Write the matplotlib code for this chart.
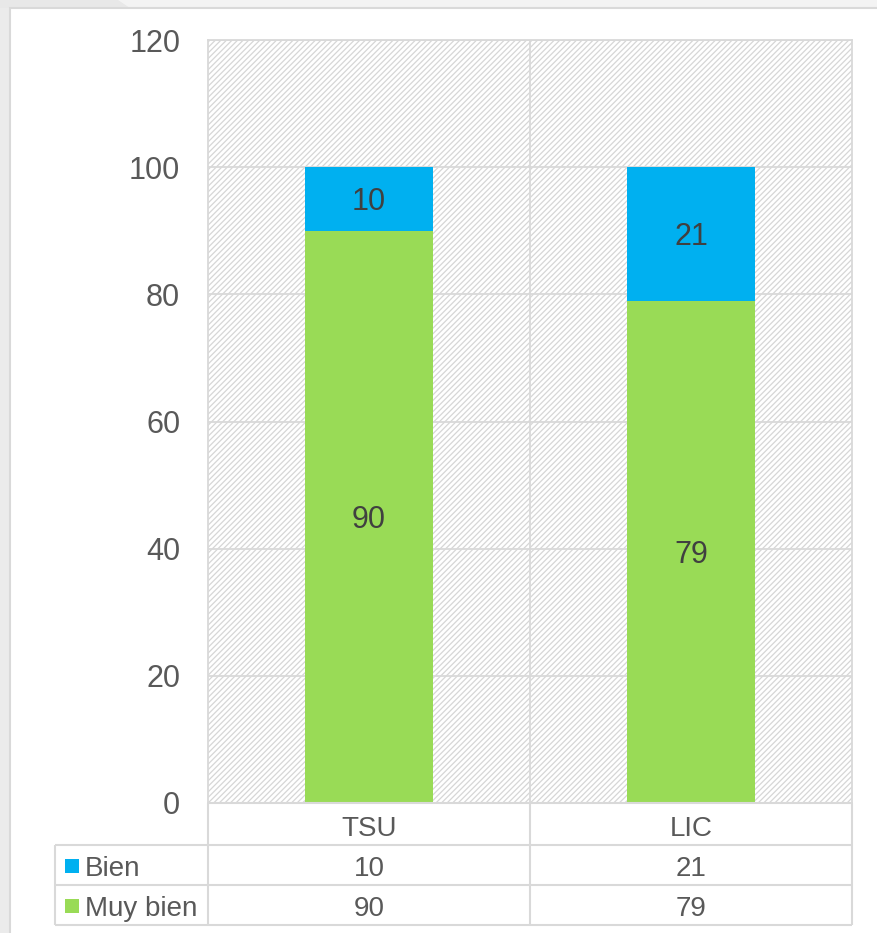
import numpy as np
import matplotlib.pyplot as plt
from matplotlib.patches import Rectangle, Polygon

plt.rcParams['font.family'] = ['Liberation Sans', 'DejaVu Sans']
plt.rcParams['hatch.linewidth'] = 0.9

categories = ['TSU', 'LIC']
series_names = ['Bien', 'Muy bien']
muy_bien = [90, 79]
bien = [10, 21]
y_ticks = [0, 20, 40, 60, 80, 100, 120]

BLUE = '#00b0f0'
GREEN = '#99db56'
TXT = '#595959'
LBL = '#404040'
GRID = '#d9d9d9'
HATCH = '#d6d6d6'

W, H = 877, 933
fig = plt.figure(figsize=(W / 100, H / 100), dpi=100)
fig.patch.set_facecolor('white')

# outer grey frame (top and left strips), kept behind the axes
bg = [
    Rectangle((0, 0), 10 / W, 1, facecolor='#ebebeb', edgecolor='none'),
    Rectangle((0, 1 - 8 / H), 1, 8 / H, facecolor='#f3f3f3', edgecolor='none'),
    Polygon([(0, 1), (118 / W, 1), (130 / W, 1 - 8 / H), (0, 1 - 8 / H)],
            closed=True, facecolor='#e8e8e8', edgecolor='none'),
    Rectangle((10 / W, -0.01), 1, 1 - 8 / H + 0.01, facecolor='white', edgecolor=GRID, lw=1.5),
]
for p in bg:
    p.set_transform(fig.transFigure)
    p.set_zorder(-5)
    fig.patches.append(p)

# main plot area
ax = fig.add_axes([208 / W, (H - 803) / H, 644 / W, 763 / H])
x = np.arange(len(categories))
ax.set_xlim(-0.5, len(categories) - 0.5)
ax.set_ylim(0, 120)

ax.patch.set_facecolor('white')
ax.add_patch(Rectangle((0, 0), 1, 1, transform=ax.transAxes, facecolor='white',
                       edgecolor=HATCH, lw=0, hatch='//////', zorder=0))

ax.set_yticks(y_ticks)
ax.set_xticks([])
ax.tick_params(axis='y', length=0, pad=20, labelsize=22, labelcolor=TXT)
ax.grid(axis='y', color=GRID, lw=1.3, zorder=1)
ax.set_axisbelow(True)
for xb in np.arange(len(categories) - 1) + 0.5:
    ax.axvline(xb, color=GRID, lw=1.3, zorder=1)
for s in ax.spines.values():
    s.set_color(GRID)
    s.set_linewidth(1.3)

bw = 0.4
ax.bar(x, muy_bien, bw, color=GREEN, zorder=2)
ax.bar(x, bien, bw, bottom=muy_bien, color=BLUE, zorder=2)

for i in range(len(categories)):
    ax.text(x[i], muy_bien[i] / 2, str(muy_bien[i]), ha='center', va='center_baseline',
            fontsize=22, color=LBL, zorder=3)
    ax.text(x[i], muy_bien[i] + bien[i] / 2, str(bien[i]), ha='center', va='center_baseline',
            fontsize=22, color=LBL, zorder=3)

# data table below
tx = fig.add_axes([55 / W, (H - 925) / H, 797 / W, 122 / H])
left_w = 153 / 322
tx.set_xlim(-0.5 - left_w, len(categories) - 0.5)
tx.set_ylim(925, 803)
tx.axis('off')

rows = [845, 885, 925]
lk = dict(color=GRID, lw=1.5, solid_capstyle='butt', clip_on=False)
for xb in np.arange(len(categories) + 1) - 0.5:
    tx.plot([xb, xb], [803, 925], **lk)
tx.plot([-0.5 - left_w, -0.5 - left_w], [845, 925], **lk)
tx.plot([-0.5, len(categories) - 0.5], [803, 803], **lk)
for r in rows:
    tx.plot([-0.5 - left_w, len(categories) - 0.5], [r, r], **lk)

for i, c in enumerate(categories):
    tx.text(x[i], 826, c, ha='center', va='center_baseline', fontsize=20, color=TXT)
    tx.text(x[i], 866, str(bien[i]), ha='center', va='center_baseline', fontsize=20, color=TXT)
    tx.text(x[i], 906, str(muy_bien[i]), ha='center', va='center_baseline', fontsize=20, color=TXT)

sq = 14 / 322
for yc, name, col in [(866, series_names[0], BLUE), (906, series_names[1], GREEN)]:
    x0 = -0.5 - left_w + 10 / 322
    tx.add_patch(Rectangle((x0, yc - 7), sq, 14, facecolor=col, edgecolor='none'))
    tx.text(x0 + sq + 6 / 322, yc, name, ha='left', va='center_baseline', fontsize=20, color=TXT)

fig.savefig('out.png', dpi=100)
